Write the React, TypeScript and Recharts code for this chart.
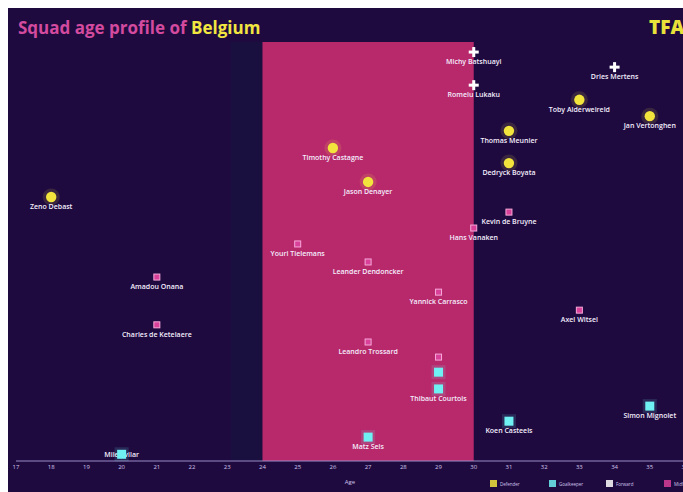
import React from "react";
import { ScatterChart, Scatter, XAxis, YAxis, ReferenceArea } from "recharts";

const ageTicks = [17, 18, 19, 20, 21, 22, 23, 24, 25, 26, 27, 28, 29, 30, 31, 32, 33, 34, 35, 36];
const peakStart = 24;
const peakEnd = 30;

const defenderNames = ["Zeno Debast", "Timothy Castagne", "Jason Denayer", "Thomas Meunier", "Dedryck Boyata", "Toby Alderweireld", "Jan Vertonghen"];
const defenderAges = [18, 26, 27, 31, 31, 33, 35];
const defenderValues = [63.0, 74.7, 66.6, 78.8, 71.1, 86.2, 82.3];

const keeperNames = ["Mile Svilar", "Matz Sels", "Thomas Kaminski", "Thibaut Courtois", "Koen Casteels", "Simon Mignolet"];
const keeperAges = [20, 27, 29, 29, 31, 35];
const keeperValues = [1.6, 5.7, 21.2, 17.2, 9.5, 13.1];

const forwardNames = ["Michy Batshuayi", "Romelu Lukaku", "Dries Mertens"];
const forwardAges = [30, 30, 34];
const forwardValues = [97.6, 89.7, 94.0];

const midfielderNames = ["Amadou Onana", "Charles de Ketelaere", "Youri Tielemans", "Leander Dendoncker", "Leandro Trossard", "Yannick Carrasco", "Thorgan Hazard", "Hans Vanaken", "Kevin de Bruyne", "Axel Witsel"];
const midfielderAges = [21, 21, 25, 27, 27, 29, 29, 30, 31, 33];
const midfielderValues = [43.9, 32.5, 51.8, 47.5, 28.4, 40.3, 24.8, 55.6, 59.4, 36.0];

const hiddenLabels = ["Thomas Kaminski", "Thorgan Hazard"];

const legendLabels = ["Defender", "Goalkeeper", "Forward", "Midfielder"];

const build = (names: string[], ages: number[], values: number[]) =>
  names.map((name, i) => ({ name, age: ages[i], value: values[i] }));

const defenders = build(defenderNames, defenderAges, defenderValues);
const keepers = build(keeperNames, keeperAges, keeperValues);
const forwards = build(forwardNames, forwardAges, forwardValues);
const midfielders = build(midfielderNames, midfielderAges, midfielderValues);

const BG = "#1f0a40";
const PINK_AREA = "#b8296c";
const YELLOW = "#f2e43c";
const CYAN = "#6ff0f2";
const WHITE = "#ffffff";
const PINK = "#d8409a";
const LABEL = "#f4eefc";
const PLOT_BOTTOM = 453;

function makeShape(kind: string) {
  return (props: any) => {
    const { cx, cy, payload } = props;
    if (cx == null || cy == null) return <g />;
    let marker: React.ReactNode = null;
    if (kind === "def") {
      marker = (
        <g>
          <circle cx={cx} cy={cy} r={8.5} fill={YELLOW} opacity={0.13} />
          <circle cx={cx} cy={cy} r={5.2} fill={YELLOW} />
        </g>
      );
    } else if (kind === "gk") {
      marker = (
        <g>
          <rect x={cx - 7} y={cy - 7} width={14} height={14} fill={CYAN} opacity={0.14} />
          <rect x={cx - 4.5} y={cy - 4.5} width={9} height={9} fill={CYAN} />
        </g>
      );
    } else if (kind === "fw") {
      marker = (
        <g>
          <rect x={cx - 5} y={cy - 1.5} width={10} height={3} fill={WHITE} />
          <rect x={cx - 1.5} y={cy - 5} width={3} height={10} fill={WHITE} />
        </g>
      );
    } else {
      marker = (
        <rect x={cx - 3} y={cy - 3} width={6} height={6} fill={PINK} stroke="#f6a9d8" strokeWidth={1} />
      );
    }
    const show = payload && !hiddenLabels.includes(payload.name);
    const labelY = cy + 12 > PLOT_BOTTOM ? cy + 3 : cy + 12;
    return (
      <g>
        {show && labelY < cy + 10 ? (
          <text x={cx} y={labelY} textAnchor="middle" fill={LABEL} fontSize={7} fontWeight={600} fontFamily="Open Sans">
            {payload.name}
          </text>
        ) : null}
        {marker}
        {show && labelY >= cy + 10 ? (
          <text x={cx} y={labelY} textAnchor="middle" fill={LABEL} fontSize={7} fontWeight={600} fontFamily="Open Sans">
            {payload.name}
          </text>
        ) : null}
      </g>
    );
  };
}

const legendColors = [YELLOW, CYAN, WHITE, PINK];
const legendX = [482, 541, 598, 656];

export default function App() {
  return (
    <div
      style={{
        position: "absolute",
        left: 8,
        top: 8,
        width: 675,
        height: 484,
        overflow: "hidden",
        background: BG,
      }}
    >
      <ScatterChart width={690} height={484} margin={{ top: 34, right: 13, bottom: 0, left: 8 }}>
        <XAxis
          type="number"
          dataKey="age"
          domain={[17, 36]}
          ticks={ageTicks}
          interval={0}
          height={31}
          axisLine={{ stroke: "#9a8cc4", strokeWidth: 1 }}
          tickLine={false}
          tickSize={2}
          tickMargin={2}
          tick={{ fill: "#cfc4ea", fontSize: 6, fontFamily: "Open Sans" }}
        />
        <YAxis type="number" dataKey="value" domain={[0, 100]} hide />
        <ReferenceArea x1={23.1} x2={peakStart} fill="#19103f" fillOpacity={1} stroke="none" />
        <ReferenceArea x1={peakStart} x2={peakEnd} fill={PINK_AREA} fillOpacity={1} stroke="none" />
        <Scatter data={midfielders} isAnimationActive={false} shape={makeShape("mid")} />
        <Scatter data={keepers} isAnimationActive={false} shape={makeShape("gk")} />
        <Scatter data={defenders} isAnimationActive={false} shape={makeShape("def")} />
        <Scatter data={forwards} isAnimationActive={false} shape={makeShape("fw")} />
      </ScatterChart>
      <svg
        width={675}
        height={484}
        style={{ position: "absolute", left: 0, top: 0, pointerEvents: "none" }}
      >
        <text x={10} y={26} fontSize={17} fontWeight={700} fontFamily="Open Sans">
          <tspan fill="#d34a9e">Squad age profile of </tspan>
          <tspan fill="#f2e640">Belgium</tspan>
        </text>
        <text x={641} y={26} fontSize={19} fontWeight={800} fontFamily="Open Sans" fill="#e8e23a">
          TFA
        </text>
        <text x={342} y={476} textAnchor="middle" fontSize={6} fontFamily="Open Sans" fill="#cfc4ea">
          Age
        </text>
        {legendLabels.map((l, i) => (
          <g key={l}>
            <rect x={legendX[i]} y={472} width={7} height={7} fill={legendColors[i]} opacity={0.85} />
            <text x={legendX[i] + 10} y={478} fontSize={4.5} fontFamily="Open Sans" fill="#cfc4ea">
              {l}
            </text>
          </g>
        ))}
      </svg>
    </div>
  );
}
